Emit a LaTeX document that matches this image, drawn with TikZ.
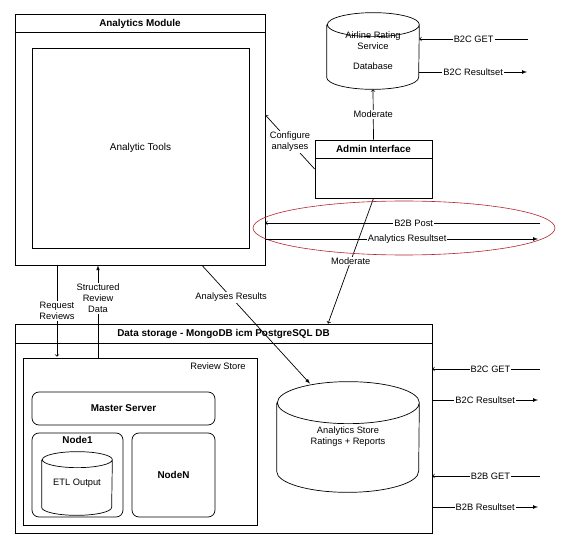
\documentclass[tikz,border=0pt]{standalone}
\usepackage{fontspec}
\setmainfont{Liberation Sans}

\definecolor{ringred}{RGB}{185,35,45}

\begin{document}
\begin{tikzpicture}[x=1pt,y=1pt,>=latex,line width=0.7pt,font=\fontsize{9.3}{11}\selectfont]
\tikzset{
  box/.style={draw,shape=rectangle,inner sep=0pt},
  nodebox/.style={draw,shape=rectangle,rounded corners=7pt,inner sep=0pt},
  store/.style={shape=rectangle,inner sep=0pt,align=center},
  title/.style={font=\fontsize{9.9}{11}\selectfont\bfseries},
  lbl/.style={fill=white,inner sep=1pt,align=center},
  open/.style={-to}
}
\useasboundingbox (0,0) rectangle (565,-545);

% analytics module
\node[box,minimum width=250,minimum height=251] (module) at (140,-139.5) {};
\draw ([yshift=-19]module.north west) -- ([yshift=-19]module.north east);
\node[title] at ([yshift=-10]module.north) {Analytics Module};
\node[box,minimum width=217,minimum height=200,font=\fontsize{10}{12}\selectfont] (tools) at (140.5,-148) {Analytic Tools};

% rating service
\node[store,minimum width=92,minimum height=76] (ratingdb) at (373,-51) {Airline Rating\\Service\\[9pt]Database};
\draw ([yshift=-12]ratingdb.north west) -- ([yshift=12]ratingdb.south west)
  arc[start angle=180,end angle=360,x radius=46,y radius=12] -- ([yshift=-12]ratingdb.north east)
  arc[start angle=0,end angle=180,x radius=46,y radius=12] arc[start angle=180,end angle=360,x radius=46,y radius=12];
\node[box,minimum width=117,minimum height=58] (admin) at (373.5,-169) {};
\draw ([yshift=-19]admin.north west) -- ([yshift=-19]admin.north east);
\node[title] at ([yshift=-9.5]admin.north) {Admin Interface};

% data storage
\node[box,minimum width=417,minimum height=209] (storage) at (223.5,-428.5) {};
\draw ([yshift=-20]storage.north west) -- ([yshift=-20]storage.north east);
\draw[line width=1.6pt] (storage.south west) -- (storage.south east);
\node[title] at ([yshift=-10]storage.north) {Data storage - MongoDB icm PostgreSQL DB};
\node[box,minimum width=234,minimum height=167] (reviewstore) at (140,-441.5) {};
\node[anchor=north east] at ([xshift=-8,yshift=-1]reviewstore.north east) {Review Store};
\node[nodebox,title,minimum width=183,minimum height=33] (master) at (123.5,-408.5) {Master Server};
\node[nodebox,minimum width=91,minimum height=84] (nodeone) at (77.5,-475) {};
\node[title] at ([yshift=-7]nodeone.north) {Node1};
\node[store,minimum width=70,minimum height=63] (etl) at (77,-483.5) {ETL Output};
\draw ([yshift=-8]etl.north west) -- ([yshift=8]etl.south west)
  arc[start angle=180,end angle=360,x radius=35,y radius=8] -- ([yshift=-8]etl.north east)
  arc[start angle=0,end angle=180,x radius=35,y radius=8] arc[start angle=180,end angle=360,x radius=35,y radius=8];
\node[nodebox,title,minimum width=83,minimum height=84] (noden) at (173.5,-475) {NodeN};
\node[store,minimum width=142,minimum height=110] (analyticsstore) at (348,-437) {Analytics Store\\Ratings + Reports};
\draw ([yshift=-21]analyticsstore.north west) -- ([yshift=21]analyticsstore.south west)
  arc[start angle=180,end angle=360,x radius=71,y radius=21] -- ([yshift=-21]analyticsstore.north east)
  arc[start angle=0,end angle=180,x radius=71,y radius=21] arc[start angle=180,end angle=360,x radius=71,y radius=21];

% links between modules
\draw[open] (admin.north) -- node[lbl]{Moderate} (ratingdb.south);
\draw[open] (admin.west) -- node[lbl]{Configure\\analyses} ([yshift=24.5]module.east);
\draw[open] (admin.south) -- node[lbl]{Moderate} ([xshift=104.5]storage.north);
\draw[->] ([xshift=62]module.south) -- node[lbl,pos=0.27]{Analyses Results} ([xshift=-38,yshift=-2]analyticsstore.north);
\coordinate (rrend) at ([yshift=-33]storage.north);
\draw[open] ([xshift=-83]module.south) coordinate (rr) -- node[lbl]{Request\\Reviews} (rr |- rrend);
\draw[->] ([xshift=-42]reviewstore.north) coordinate (srd) -- node[lbl,pos=0.64]{Structured\\Review\\Data} (srd |- module.south);

% B2B traffic
\draw[ringred,line width=0.6pt] (404,-228) ellipse [x radius=151, y radius=27];
\coordinate (b2bpost) at (540,-223);
\coordinate (aresult) at (538,-239);
\draw[open] (b2bpost) -- node[lbl,pos=0.46]{B2B Post} (b2bpost -| module.east);
\draw[->] (aresult -| module.east) -- node[lbl,pos=0.52]{Analytics Resultset} (aresult);

% outside requests
\coordinate (topget) at (528,-39);
\coordinate (topres) at (527,-72);
\draw[open] (topget) -- node[lbl]{B2C GET} (topget -| ratingdb.east);
\draw[->] (topres -| ratingdb.east) -- node[lbl]{B2C Resultset} (topres);
\coordinate (b2cget) at (540,-369);
\coordinate (b2cres) at (538,-400);
\coordinate (b2bget) at (540,-476);
\coordinate (b2bres) at (538,-507);
\draw[open] (b2cget) -- node[lbl,pos=0.46]{B2C GET} (b2cget -| storage.east);
\draw[->] (b2cres -| storage.east) -- node[lbl]{B2C Resultset} (b2cres);
\draw[open] (b2bget) -- node[lbl,pos=0.46]{B2B GET} (b2bget -| storage.east);
\draw[->] (b2bres -| storage.east) -- node[lbl]{B2B Resultset} (b2bres);
\end{tikzpicture}
\end{document}
